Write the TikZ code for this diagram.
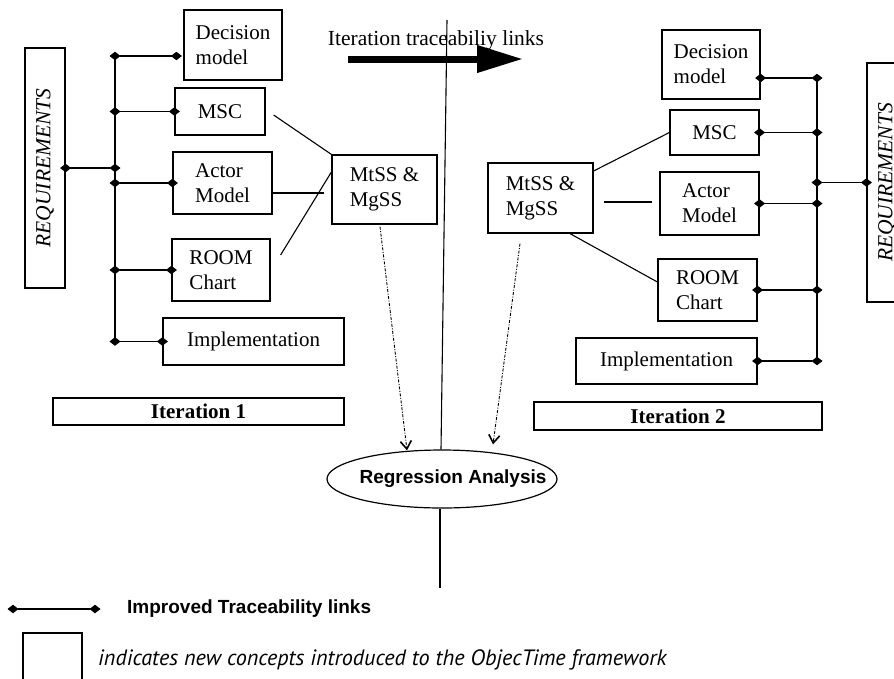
\documentclass[tikz,border=0pt]{standalone}
\usepackage{fontspec}
\setmainfont{Liberation Serif}
\newfontfamily\arialfont{Liberation Sans}
\newfontfamily\notefont{PT Sans}
\usetikzlibrary{arrows.meta,shapes.geometric}

\tikzset{
  box/.style={draw, line width=1.2pt, rectangle, inner sep=0pt, align=left,
              font=\fontsize{21}{25}\selectfont},
  reqbox/.style={box, font=\fontsize{21.5}{25}\selectfont\itshape},
  itbox/.style={box, font=\fontsize{21}{25}\selectfont\bfseries},
  link/.style={line width=1.1pt,
               {Diamond[length=11pt,width=8.5pt]}-{Diamond[length=11pt,width=8.5pt]},
               shorten <=-5.5pt, shorten >=-5.5pt},
  bus/.style={line width=1.2pt},
  plain/.style={line width=1.1pt},
  regress/.style={line width=0.9pt, dash pattern=on 3pt off 1.5pt on 1pt off 1.5pt,
                  -{Straight Barb[length=8pt,width=11pt,line width=1.6pt]}}
}

\begin{document}
\begin{tikzpicture}[x=1pt,y=-1pt]
\useasboundingbox (0,0) rectangle (894,678);
\clip (0,0) rectangle (894,678);

% ---------------- Iteration 1 ----------------
\node[reqbox, minimum width=40pt, minimum height=240pt] (reqL) at (45,168)
  {\rotatebox{90}{REQUIREMENTS}};
\node[box, minimum width=98pt, minimum height=70pt] (decL) at (233,45) {Decision\\model};
\node[box, minimum width=90pt, minimum height=47pt] (mscL) at (220,111.5) {MSC};
\node[box, minimum width=99pt, minimum height=62pt] (actL) at (222.5,183) {Actor\\Model};
\node[box, minimum width=98pt, minimum height=62pt] (roomL) at (221,270) {ROOM\\Chart};
\node[box, minimum width=181pt, minimum height=47pt] (implL) at (253.5,341.5) {Implementation};
\node[itbox, minimum width=291pt, minimum height=27pt] (itL) at (198.5,411.5) {Iteration 1};
\node[box, minimum width=105pt, minimum height=69pt] (mtL) at (384.5,189.5) {MtSS \&\\MgSS};

% traceability bus
\coordinate (bLtop) at (115,56);
\coordinate (bLbot) at (115,341);
\draw[bus] (bLtop) -- (bLbot);
\draw[link] (bLtop) -- ([xshift=-7pt]decL.west |- bLtop);
\draw[link] (mscL.west -| bLtop) -- (mscL.west);
\draw[link] (reqL.east) -- (reqL.east -| bLtop);
\draw[link] (actL.west -| bLtop) -- (actL.west);
\draw[link] (roomL.west -| bLtop) -- (roomL.west);
\draw[link] (implL.west -| bLtop) -- (implL.west);

% links to MtSS & MgSS
\draw[plain] ([xshift=8pt,yshift=-3.5pt]mscL.east) -- (mtL.north west);
\draw[plain] ([yshift=-10pt]actL.east) -- ([xshift=-7pt,yshift=-3.5pt]mtL.west);
\draw[plain] ([xshift=10pt,yshift=15pt]roomL.east) -- ([yshift=17.5pt]mtL.west);

% ---------------- Iteration 2 ----------------
\node[reqbox, minimum width=40pt, minimum height=239pt] (reqR) at (887,182.5)
  {\rotatebox{90}{REQUIREMENTS}};
\node[box, minimum width=98pt, minimum height=69pt] (decR) at (711,64.5) {Decision\\model};
\node[box, minimum width=89pt, minimum height=45pt] (mscR) at (714.5,132.5) {MSC};
\node[box, minimum width=99pt, minimum height=63pt] (actR) at (709.5,203.5) {Actor\\Model};
\node[box, minimum width=99pt, minimum height=62pt] (roomR) at (707.5,290) {ROOM\\Chart};
\node[box, minimum width=181pt, minimum height=46pt] (implR) at (666.5,361) {Implementation};
\node[itbox, minimum width=288pt, minimum height=28pt] (itR) at (678,416) {Iteration 2};
\node[box, minimum width=105pt, minimum height=70pt] (mtR) at (540.5,198) {MtSS \&\\MgSS};

\coordinate (bRtop) at (817,78);
\coordinate (bRbot) at (817,362);
\draw[bus] (bRtop) -- (bRbot);
\draw[link] ([yshift=-13.5pt]decR.east) -- (bRtop);
\draw[link] (mscR.east) -- (mscR.east -| bRtop);
\draw[link] (reqR.west -| bRtop) -- (reqR.west);
\draw[link] (actR.east) -- (actR.east -| bRtop);
\draw[link] (roomR.east) -- (roomR.east -| bRtop);
\draw[link] (implR.east) -- (implR.east -| bRtop);

\draw[plain] (mscR.west) -- ([yshift=27pt]mtR.east);
\draw[plain] ([xshift=10pt,yshift=-4pt]mtR.east) -- ([xshift=-7pt,yshift=1.5pt]actR.west);
\draw[plain] ([xshift=29.5pt]mtR.south) -- ([yshift=8pt]roomR.west);

% ---------------- between the iterations ----------------
\node[ellipse, draw, line width=1.2pt, minimum width=230pt, minimum height=58pt,
      inner sep=0pt] (reg) at (442,479) {};
\node[font=\arialfont\bfseries\fontsize{19}{22}\selectfont] (regtext) at (453,479)
  {Regression Analysis};

\coordinate (divtop) at (447,20);
\coordinate (divbot) at (440,588);
\draw[plain] (divtop) -- ([xshift=-1pt]reg.north);
\draw[plain] ([xshift=-2pt]reg.south) -- (divbot);

\node[font=\fontsize{21.5}{25}\selectfont] (ittext) at (436,40) {Iteration traceabiliy links};
\coordinate (arrS) at (348,59);
\coordinate (arrE) at (523,59);
\draw[line width=7pt, -{Triangle[length=46pt,width=26pt]}] (arrS) -- (arrE);

\draw[regress] ([xshift=-4.5pt,yshift=-2pt]mtL.south) -- ([xshift=-35pt,yshift=-1pt]reg.north);
\draw[regress] ([xshift=-20.5pt,yshift=-10pt]mtR.south) -- ([xshift=51pt,yshift=5pt]reg.north);

% ---------------- legend ----------------
\coordinate (lgA) at (13,609);
\coordinate (lgB) at (95,609);
\draw[link] (lgA) -- (lgB);
\node[anchor=west, inner sep=0pt, font=\arialfont\bfseries\fontsize{19}{22}\selectfont]
  (lgtext) at (127,609) {Improved Traceability links};
\node[draw, line width=1.2pt, minimum width=59pt, minimum height=57pt, inner sep=0pt]
  (lgbox) at (52.5,661.5) {};
\node[anchor=west, inner sep=0pt, font=\notefont\itshape\fontsize{22.2}{26}\selectfont]
  (lgnote) at (98,660) {indicates new concepts introduced to the ObjecTime framework};
\end{tikzpicture}
\end{document}
